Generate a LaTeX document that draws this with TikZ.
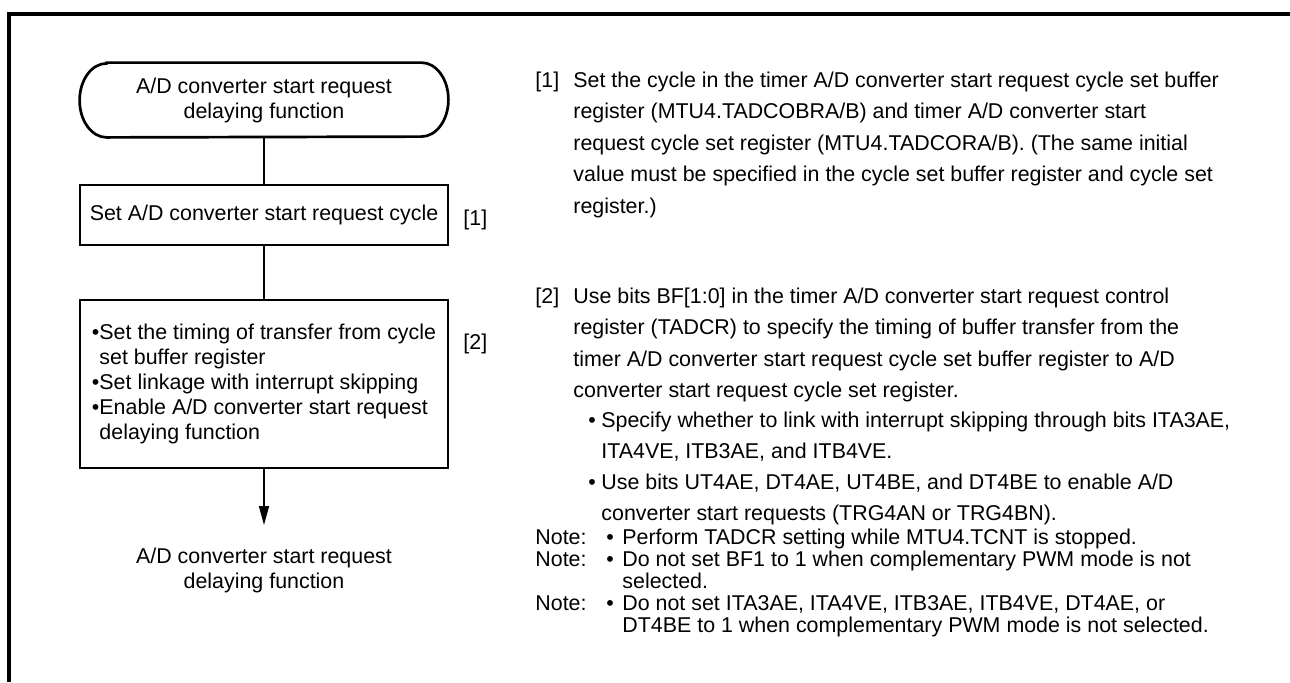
\documentclass[tikz,border=0pt]{standalone}
\usepackage{fontspec}
\setmainfont{Liberation Sans}
\usetikzlibrary{arrows.meta, positioning}
\tikzstyle{frame}    = [line width=1.6pt]
\tikzstyle{termnode} = [inner sep=0pt, minimum width=184pt, minimum height=37pt, align=center]
\tikzstyle{termline} = [line width=1.35pt]
\tikzstyle{box}      = [draw, line width=1.35pt, inner sep=0pt, minimum width=184pt, align=center]
\tikzstyle{edge}     = [line width=0.85pt]
\tikzstyle{arrow}    = [line width=0.85pt, -{Triangle[length=9.5pt,width=5pt]}]
\tikzstyle{txt}      = [inner sep=0pt, anchor=base west]
\newcommand{\parfont}{\fontsize{10.7}{15.8}\selectfont}
\newcommand{\notefont}{\fontsize{10.7}{11}\selectfont}
% lines of text, baseline at the first line
\newcommand{\textlines}[1]{\vtop{\halign{##\hfil\cr#1\crcr}}}

\begin{document}
\begin{tikzpicture}[x=0.5pt, y=-0.5pt, font=\fontsize{10.7}{12.5}\selectfont]
\useasboundingbox (0,0) rectangle (1290,682);
\draw[frame] (9,682) -- (9,14) -- (1290,14);

% flow chart
\node[termnode] (start) at (264,100) {A/D converter start request\\delaying function};
\draw[termline] ([xshift=13.5pt]start.north west) -- ([xshift=-13.5pt]start.north east)
  arc[start angle=90, end angle=-90, x radius=13.5pt, y radius=18.5pt]
  -- ([xshift=13.5pt]start.south west)
  arc[start angle=270, end angle=90, x radius=13.5pt, y radius=18.5pt] -- cycle;

\node[box, minimum height=30pt] (setcycle) at (264,215) {Set A/D converter start request cycle};
\node[box, minimum height=84pt] (settiming) at (264,384)
  {\textlines{•Set the timing of transfer from cycle\cr
   \phantom{•}set buffer register\cr
   •Set linkage with interrupt skipping\cr
   •Enable A/D converter start request\cr
   \phantom{•}delaying function}};
\coordinate (stop) at (264,525);
\node[termnode, minimum height=0pt] (finish) at (264,570) {A/D converter start request\\delaying function};

\node[txt] (mark1) at (463,225) {[1]};
\node[txt] (mark2) at (463,349) {[2]};

\draw[edge] (start) -- (setcycle);
\draw[edge] (setcycle) -- (settiming);
\draw[arrow] (settiming) -- (stop);

% description
\node[txt] (lab1) at (535,87) {[1]};
\node[txt, font=\parfont] (par1) at (573,87)
  {\textlines{Set the cycle in the timer A/D converter start request cycle set buffer\cr
   register (MTU4.TADCOBRA/B) and timer A/D converter start\cr
   request cycle set register (MTU4.TADCORA/B). (The same initial\cr
   value must be specified in the cycle set buffer register and cycle set\cr
   register.)}};

\node[txt] (lab2) at (535,303) {[2]};
\node[txt, font=\parfont] (par2) at (573,303)
  {\textlines{Use bits BF[1:0] in the timer A/D converter start request control\cr
   register (TADCR) to specify the timing of buffer transfer from the\cr
   timer A/D converter start request cycle set buffer register to A/D\cr
   converter start request cycle set register.}};
\node[txt] (bul1) at (588,427) {•};
\node[txt, font=\parfont] (item1) at (601,427)
  {\textlines{Specify whether to link with interrupt skipping through bits ITA3AE,\cr
   ITA4VE, ITB3AE, and ITB4VE.}};
\node[txt] (bul2) at (588,489) {•};
\node[txt, font=\parfont] (item2) at (601,489)
  {\textlines{Use bits UT4AE, DT4AE, UT4BE, and DT4BE to enable A/D\cr
   converter start requests (TRG4AN or TRG4BN).}};

\node[txt] (note1) at (535,544) {Note:};
\node[txt] (nbul1) at (606,544) {•};
\node[txt, font=\notefont] (ntext1) at (622,544) {Perform TADCR setting while MTU4.TCNT is stopped.};
\node[txt] (note2) at (535,566) {Note:};
\node[txt] (nbul2) at (606,566) {•};
\node[txt, font=\notefont] (ntext2) at (622,566)
  {\textlines{Do not set BF1 to 1 when complementary PWM mode is not\cr selected.}};
\node[txt] (note3) at (535,610) {Note:};
\node[txt] (nbul3) at (606,610) {•};
\node[txt, font=\notefont] (ntext3) at (622,610)
  {\textlines{Do not set ITA3AE, ITA4VE, ITB3AE, ITB4VE, DT4AE, or\cr
   DT4BE to 1 when complementary PWM mode is not selected.}};
\end{tikzpicture}
\end{document}
